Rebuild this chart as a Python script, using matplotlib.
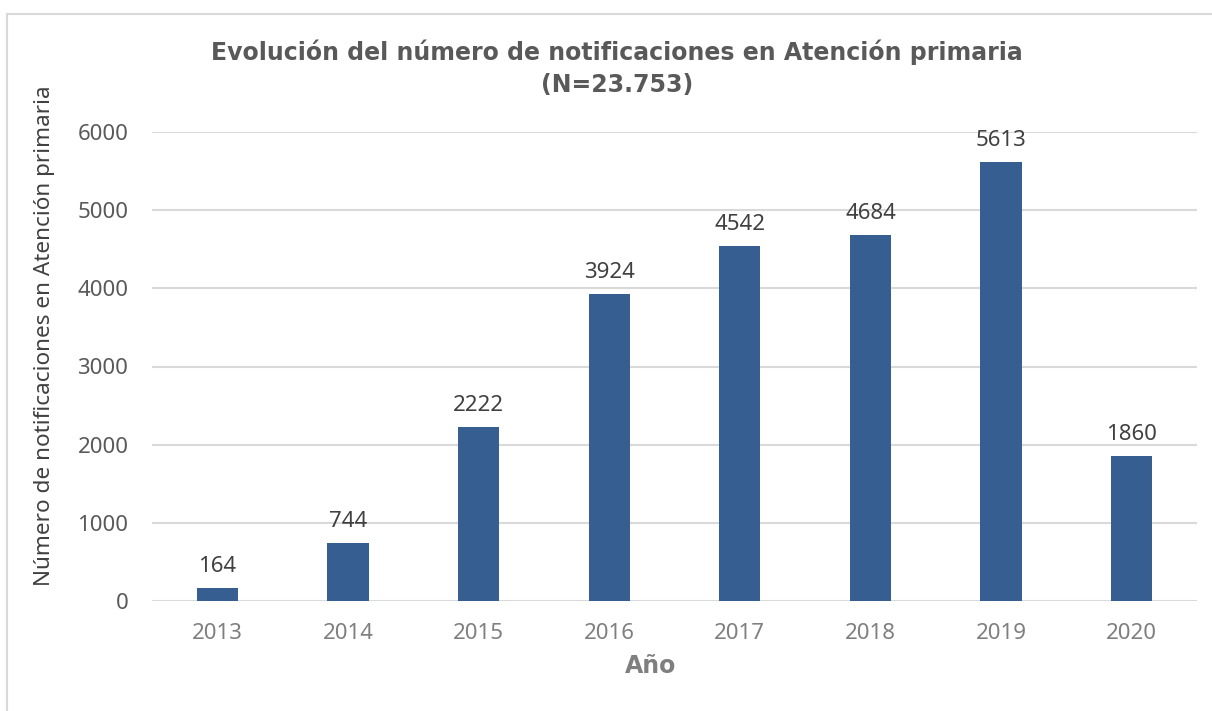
import matplotlib.pyplot as plt
from matplotlib.lines import Line2D

# Data
years = ['2013', '2014', '2015', '2016', '2017', '2018', '2019', '2020']
notificaciones = [164, 744, 2222, 3924, 4542, 4684, 5613, 1860]
y_ticks = [0, 1000, 2000, 3000, 4000, 5000, 6000]

plt.rcParams['font.family'] = ['Noto Sans', 'DejaVu Sans']

W, H = 1212, 711
fig = plt.figure(figsize=(W / 100, H / 100), dpi=100)
ax = fig.add_axes([152 / W, 1 - 601 / H, (1197 - 152) / W, (601 - 132) / H])

x = range(len(years))
ax.bar(x, notificaciones, width=0.315, color='#365E90', zorder=3)

for xi, v in zip(x, notificaciones):
    ax.annotate(str(v), (xi, v), xytext=(0, 11.5), textcoords='offset points',
                ha='center', va='baseline', fontsize=16, color='#404040')

ax.set_xlim(-0.5, len(years) - 0.5)
ax.set_ylim(0, 6000)
ax.set_yticks(y_ticks)
ax.set_xticks(list(x))
ax.set_xticklabels(years)
ax.tick_params(axis='x', length=0, pad=16, labelsize=16, labelcolor='#7f7f7f')
ax.tick_params(axis='y', length=0, pad=17, labelsize=16, labelcolor='#595959')
ax.grid(axis='y', color='#d9d9d9', linewidth=1.5, zorder=0)
for s in ax.spines.values():
    s.set_visible(False)

ax.set_xlabel('Año', fontsize=17, fontweight='bold', color='#7f7f7f',
              family='DejaVu Sans')
ax.xaxis.set_label_coords((651 - 152) / 1045, -(666 - 601) / 469)
ax.xaxis.label.set_va('center')
ax.set_ylabel('Número de notificaciones en Atención primaria', fontsize=16.2,
              color='#404040')
ax.yaxis.set_label_coords(-(152 - 45) / 1045, (601 - 336) / 469)
ax.yaxis.label.set_va('center')

fig.text(617 / W, 1 - 52 / H, 'Evolución del número de notificaciones en Atención primaria',
         ha='center', va='center', fontsize=17, fontweight='bold', color='#595959',
         family='DejaVu Sans')
fig.text(617 / W, 1 - 85 / H, '(N=23.753)', ha='center', va='center',
         fontsize=17, fontweight='bold', color='#595959', family='DejaVu Sans')

# chart frame (top and left edges visible)
fig.add_artist(Line2D([6.5 / W, 6.5 / W], [0, 1 - 14 / H], transform=fig.transFigure,
                      color='#d9d9d9', linewidth=1.5))
fig.add_artist(Line2D([6.5 / W, 1], [1 - 14 / H, 1 - 14 / H], transform=fig.transFigure,
                      color='#d9d9d9', linewidth=1.5))

fig.savefig('out.png', dpi=100)
plt.close(fig)
